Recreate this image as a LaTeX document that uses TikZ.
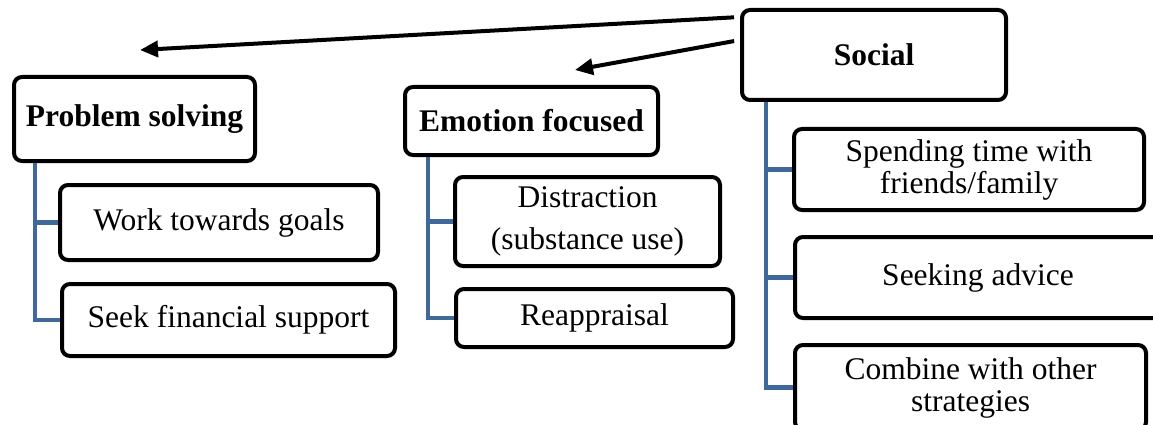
\documentclass[tikz,border=0pt]{standalone}
\usepackage{fontspec}
\setmainfont{Liberation Serif}
\usetikzlibrary{arrows.meta,calc}
\definecolor{treeblue}{HTML}{41689A}
\tikzset{
  box/.style={draw=black, line width=4pt, rounded corners=8pt, fill=white,
    align=center, inner sep=0pt, font=\fontsize{31.5}{32}\selectfont},
  head/.style={box, font=\fontsize{31.5}{32}\selectfont\bfseries},
  tree/.style={draw=treeblue, line width=4.5pt},
  link/.style={draw=black, line width=4pt, -{Triangle[length=18pt,width=16pt]}, shorten <=6pt}
}
\begin{document}
\begin{tikzpicture}[x=1pt,y=-1pt]
\clip (0,0) rectangle (1153,425);
\fill[white] (0,0) rectangle (1153,425);

% problem-solving column
\node[head, minimum width=241pt, minimum height=84pt] (ps) at (134.5,119) {Problem solving};
\node[box, minimum width=318pt, minimum height=75pt] (wtg) at (219,222.5) {Work towards goals};
\node[box, minimum width=333pt, minimum height=72pt] (sfs) at (228.5,320) {Seek financial support};

% emotion-focused column
\node[head, minimum width=253pt, minimum height=68pt] (ef) at (531.5,121) {Emotion focused};
\node[box, minimum width=265pt, minimum height=89pt, font=\fontsize{31.5}{42}\selectfont] (dis) at (587.5,221.5) {Distraction\\(substance use)};
\node[box, minimum width=277pt, minimum height=58pt] (rea) at (594.5,318) {Reappraisal};

% social column
\node[head, minimum width=264pt, minimum height=90pt] (soc) at (874,55) {Social};
\node[box, minimum width=350pt, minimum height=81pt] (spt) at (969,169.5) {Spending time with\\friends/family};
\node[box, minimum width=366pt, minimum height=81pt] (adv) at (978,277.5) {Seeking advice};
\node[box, minimum width=351pt, minimum height=85pt] (cmb) at (970.5,387.5) {Combine with other\\strategies};

% tree connectors
\coordinate (psr) at ($(ps.south west)+(23,0)$);
\coordinate (efr) at ($(ef.south west)+(25,0)$);
\coordinate (socr) at ($(soc.south west)+(26,0)$);
\draw[tree] (psr) |- (wtg.west);
\draw[tree] (psr) |- (sfs.west);
\draw[tree] (efr) |- (dis.west);
\draw[tree] (efr) |- (rea.west);
\draw[tree] (socr) |- (spt.west);
\draw[tree] (socr) |- (adv.west);
\draw[tree] (socr) |- (cmb.west);

% arrows from the social box
\coordinate (t1) at (140,50);
\coordinate (t2) at (575,70);
\draw[link] ([yshift=38pt]soc.west) -- (t1);
\draw[link] ([yshift=15pt]soc.west) -- (t2);
\end{tikzpicture}
\end{document}
